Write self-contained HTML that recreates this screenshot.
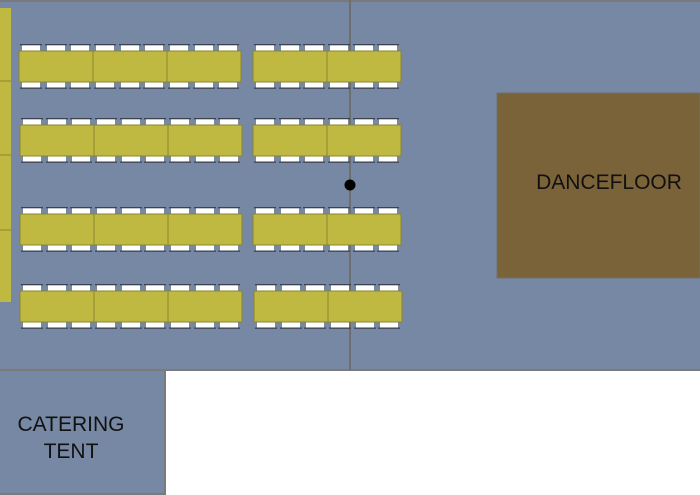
<!DOCTYPE html>
<html><head><meta charset="utf-8"><style>
html,body{margin:0;padding:0;background:#fff;}
svg{display:block;}
text{font-family:"Liberation Sans",sans-serif;fill:#111;}
</style></head><body>
<svg width="700" height="495" viewBox="0 0 700 495" xmlns="http://www.w3.org/2000/svg">
<defs>
<g id="seg">
  <g fill="#fff">
    <rect x="3" y="-6" width="18" height="6"/><rect x="28" y="-6" width="18" height="6"/><rect x="52" y="-6" width="18" height="6"/>
    <rect x="3" y="31" width="18" height="6"/><rect x="28" y="31" width="18" height="6"/><rect x="52" y="31" width="18" height="6"/>
  </g>
  <g fill="#3c4250">
    <rect x="1" y="-7" width="22" height="1.3"/><rect x="26" y="-7" width="22" height="1.3"/><rect x="50" y="-7" width="22" height="1.3"/>
    <rect x="1" y="36.5" width="22" height="1.3"/><rect x="26" y="36.5" width="22" height="1.3"/><rect x="50" y="36.5" width="22" height="1.3"/>
  </g>
  <rect x="0" y="0" width="74" height="31" fill="#bfb942" stroke="#8a8530" stroke-width="1"/>
</g>
<g id="left"><use href="#seg" x="0"/><use href="#seg" x="74"/><use href="#seg" x="148"/></g>
<g id="right"><use href="#seg" x="0"/><use href="#seg" x="74"/></g>
</defs>
<rect x="0" y="0" width="700" height="371" fill="#7788a4"/>
<rect x="0" y="0" width="700" height="2" fill="#7a7a7a"/>
<rect x="0" y="369" width="700" height="2" fill="#7a7a7a"/>
<rect x="349" y="0" width="2" height="370" fill="#6e6e6e"/>
<rect x="0" y="8" width="11" height="294" fill="#bfb942"/>
<g stroke="#8a8530" stroke-width="1"><line x1="0" y1="81" x2="11" y2="81"/><line x1="0" y1="155" x2="11" y2="155"/><line x1="0" y1="230" x2="11" y2="230"/></g>
<use href="#left" x="19" y="51"/>
<use href="#left" x="20" y="125"/>
<use href="#left" x="20" y="214"/>
<use href="#left" x="20" y="291"/>
<use href="#right" x="253" y="51"/>
<use href="#right" x="253" y="125"/>
<use href="#right" x="253" y="214"/>
<use href="#right" x="254" y="291"/>
<circle cx="350" cy="185" r="5.5" fill="#000"/>
<rect x="497" y="93" width="203" height="185" fill="#7b6339" stroke="#6f6f6f" stroke-width="1"/>
<text x="609" y="189" font-size="21" text-anchor="middle">DANCEFLOOR</text>
<rect x="0" y="371" width="165" height="124" fill="#7788a4"/>
<rect x="164" y="371" width="2" height="124" fill="#7a7a7a"/>
<rect x="0" y="493" width="166" height="2" fill="#7a7a7a"/>
<text x="71" y="431" font-size="21" text-anchor="middle">CATERING</text>
<text x="71" y="458" font-size="21" text-anchor="middle">TENT</text>
</svg>
</body></html>
